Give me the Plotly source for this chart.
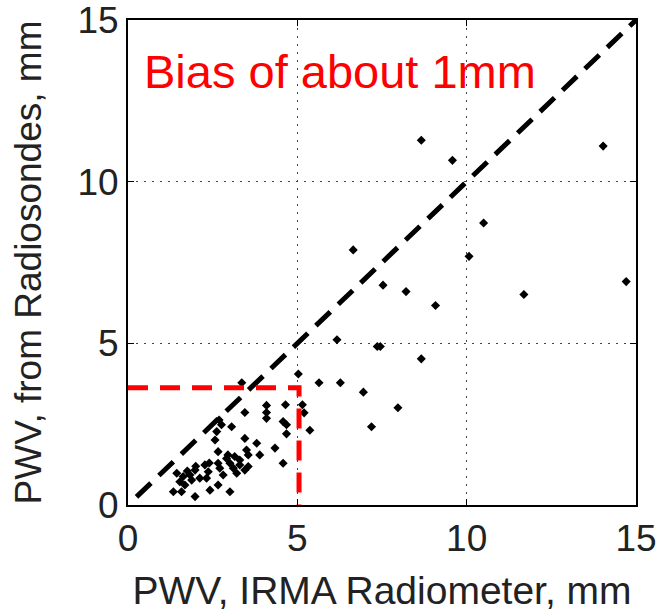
import plotly.graph_objects as go

# Scatter data: PWV IRMA radiometer (x) vs radiosondes (y), mm
irma_x = [8.66, 14.03, 9.58, 10.50, 6.65, 10.07, 14.71, 7.53, 8.21, 11.69, 9.08, 6.17,
          7.36, 7.45, 8.66, 5.03, 5.64, 6.27, 6.95, 7.97, 7.19, 5.15, 5.20, 5.37, 3.36,
          3.45, 4.09, 4.09, 4.09, 4.65, 4.58, 4.68, 4.68, 2.69, 2.76, 3.06, 2.62, 2.57,
          3.45, 3.80, 4.34, 2.66, 3.50, 3.55, 3.89, 2.91, 3.01, 3.11, 3.21, 3.30, 3.30,
          3.45, 3.55, 4.58, 2.66, 2.71, 2.81, 2.27, 2.37, 2.32, 1.98, 1.83, 1.88, 1.63,
          1.53, 1.44, 1.68, 1.34, 1.58, 2.42, 2.66, 1.98, 3.01, 2.12, 2.00, 2.95, 3.15,
          2.40, 1.75]
sonde_y = [11.28, 11.10, 10.66, 8.72, 7.89, 7.69, 6.91, 6.80, 6.60, 6.51, 6.17, 5.11,
           4.90, 4.90, 4.52, 4.05, 3.78, 3.78, 3.49, 3.01, 2.42, 3.10, 2.85, 2.31, 3.78,
           2.86, 2.86, 2.68, 3.08, 3.10, 2.58, 2.48, 2.20, 2.63, 2.48, 2.42, 2.27, 2.01,
           2.06, 1.91, 1.76, 1.65, 1.70, 1.55, 1.55, 1.44, 1.29, 1.14, 0.98, 1.39, 1.24,
           1.08, 1.19, 1.29, 1.29, 1.14, 0.93, 1.24, 1.03, 0.83, 1.08, 0.93, 0.77, 0.88,
           0.72, 0.98, 0.62, 0.41, 0.41, 0.46, 0.62, 0.26, 0.41, 0.83, 1.20, 1.55, 1.50,
           1.30, 1.05]

# 1:1 reference line
one_to_one_x = [0.25, 15]
one_to_one_y = [0.25, 15]

# Bias indicator (red dashed)
bias_x = [0, 5.05, 5.05]
bias_y = [3.63, 3.63, 0]

ticks = [0, 5, 10, 15]
annotation_text = "Bias of about 1mm"

FONT = "Liberation Sans, Arial"

fig = go.Figure()
fig.add_trace(go.Scatter(x=irma_x, y=sonde_y, mode="markers",
                         marker=dict(symbol="diamond", size=7, color="black"),
                         showlegend=False))
fig.add_trace(go.Scatter(x=one_to_one_x, y=one_to_one_y, mode="lines",
                         line=dict(color="black", width=5, dash="20px,11px"),
                         showlegend=False))
fig.add_trace(go.Scatter(x=bias_x, y=bias_y, mode="lines",
                         line=dict(color="#ff0000", width=5, dash="20px,12px"),
                         showlegend=False))

fig.add_annotation(x=0.42, y=13.4, xref="x", yref="y", text=annotation_text,
                   showarrow=False, xanchor="left", yanchor="middle",
                   font=dict(family=FONT, size=47, color="#ff0000"))

axis_common = dict(
    range=[0, 15], tickvals=ticks, ticks="inside", ticklen=6, tickcolor="black",
    showline=True, linecolor="black", linewidth=2, mirror="ticks",
    showgrid=True, gridcolor="#444444", gridwidth=1, griddash="2px,6px",
    zeroline=False, ticklabeloverflow="allow", automargin=False,
    tickfont=dict(family=FONT, size=37, color="#222222"),
)
fig.update_xaxes(**axis_common,
                 title=dict(text="PWV, IRMA Radiometer, mm", standoff=18,
                            font=dict(family=FONT, size=39, color="#222222")))
fig.update_yaxes(**axis_common,
                 title=dict(text="PWV, from Radiosondes, mm", standoff=24,
                            font=dict(family=FONT, size=37, color="#222222")))

fig.update_layout(width=662, height=614,
                  margin=dict(l=128, r=26, t=20, b=109, autoexpand=False),
                  plot_bgcolor="white", paper_bgcolor="white")
fig.write_html("out.html")
